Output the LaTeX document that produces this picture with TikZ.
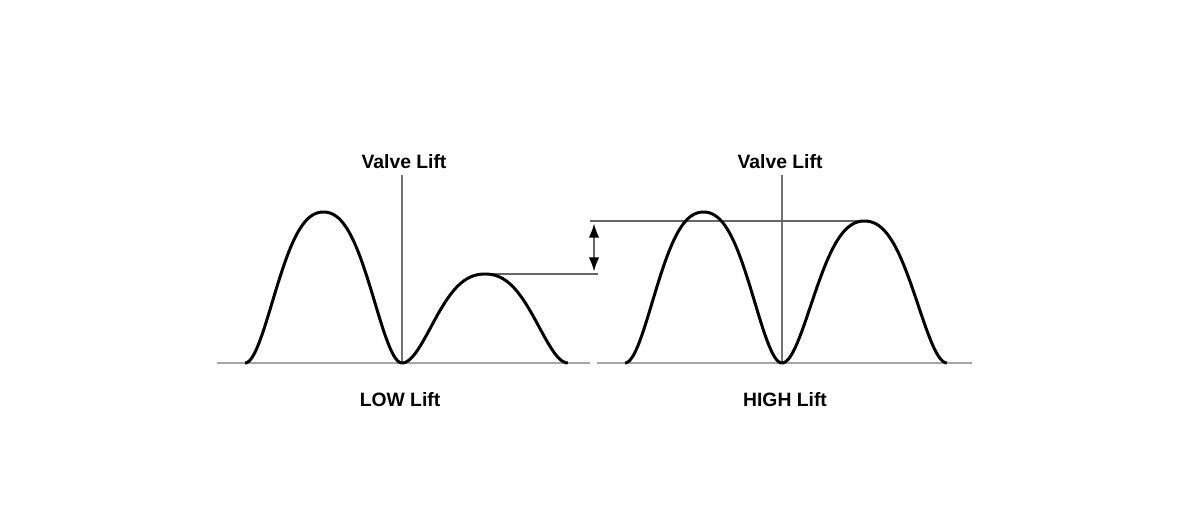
\documentclass[tikz,border=0pt]{standalone}
\usepackage{fontspec}
\setmainfont{Liberation Sans}
\usetikzlibrary{arrows.meta}
\tikzset{
  lobe/.style={line width=1.7pt, black, line join=round},
  axis/.style={line width=0.8pt, black!55},
  base/.style={line width=1.2pt, black!35},
  level/.style={line width=0.8pt, black!60},
  lbl/.style={font=\fontsize{11}{13}\selectfont\bfseries},
  declare function={camw(\t)=1-abs(2*\t-1); cam(\t)=(1-cos(180*camw(\t)*(1.4-0.4*camw(\t))))/2;}
}
\begin{document}
\begin{tikzpicture}
      \useasboundingbox (0,-3.08) rectangle (24,7.26);
      \draw
        (8.08,4.02) node[lbl] (vlow){Valve Lift}
        (15.6,4.02) node[lbl] (vhigh){Valve Lift}
        (8.0,-0.74) node[lbl] (low){LOW Lift}
        (15.7,-0.74) node[lbl] (high){HIGH Lift};
      \coordinate (b1) at (4.34,0);
      \coordinate (b2) at (11.8,0);
      \coordinate (b3) at (11.94,0);
      \coordinate (b4) at (19.44,0);
      \coordinate (o1) at (8.04,0);
      \coordinate (t1) at (8.04,3.76);
      \coordinate (o2) at (15.64,0);
      \coordinate (t2) at (15.64,3.76);
      \coordinate (lowpeak) at (9.7,1.78);
      \coordinate (lowend) at (11.96,1.78);
      \coordinate (highpeak) at (17.29,2.84);
      \coordinate (highend) at (11.8,2.84);
      \coordinate (arrtop) at (11.88,2.84);
      \coordinate (arrbot) at (11.88,1.78);
      \begin{scope}[-]
        \draw[base] (b1) to (b2);
        \draw[base] (b3) to (b4);
        \draw[axis] (o1) to (t1);
        \draw[axis] (o2) to (t2);
        \draw[level] (lowpeak) to (lowend);
        \draw[level] (highend) to (highpeak);
        \draw[level, {Latex[length=8pt,width=6pt,black]}-{Latex[length=8pt,width=6pt,black]}, shorten <=1.5pt, shorten >=1.5pt] (arrtop) to (arrbot);
      \end{scope}
      \draw[lobe] plot[domain=0:1, samples=120] ({4.9+3.14*\x},{3.02*cam(\x)});
      \draw[lobe] plot[domain=0:1, samples=120] ({8.04+3.32*\x},{1.78*cam(\x)});
      \draw[lobe] plot[domain=0:1, samples=120] ({12.5+3.14*\x},{3.02*cam(\x)});
      \draw[lobe] plot[domain=0:1, samples=120] ({15.64+3.3*\x},{2.84*cam(\x)});
    \end{tikzpicture}
\end{document}
